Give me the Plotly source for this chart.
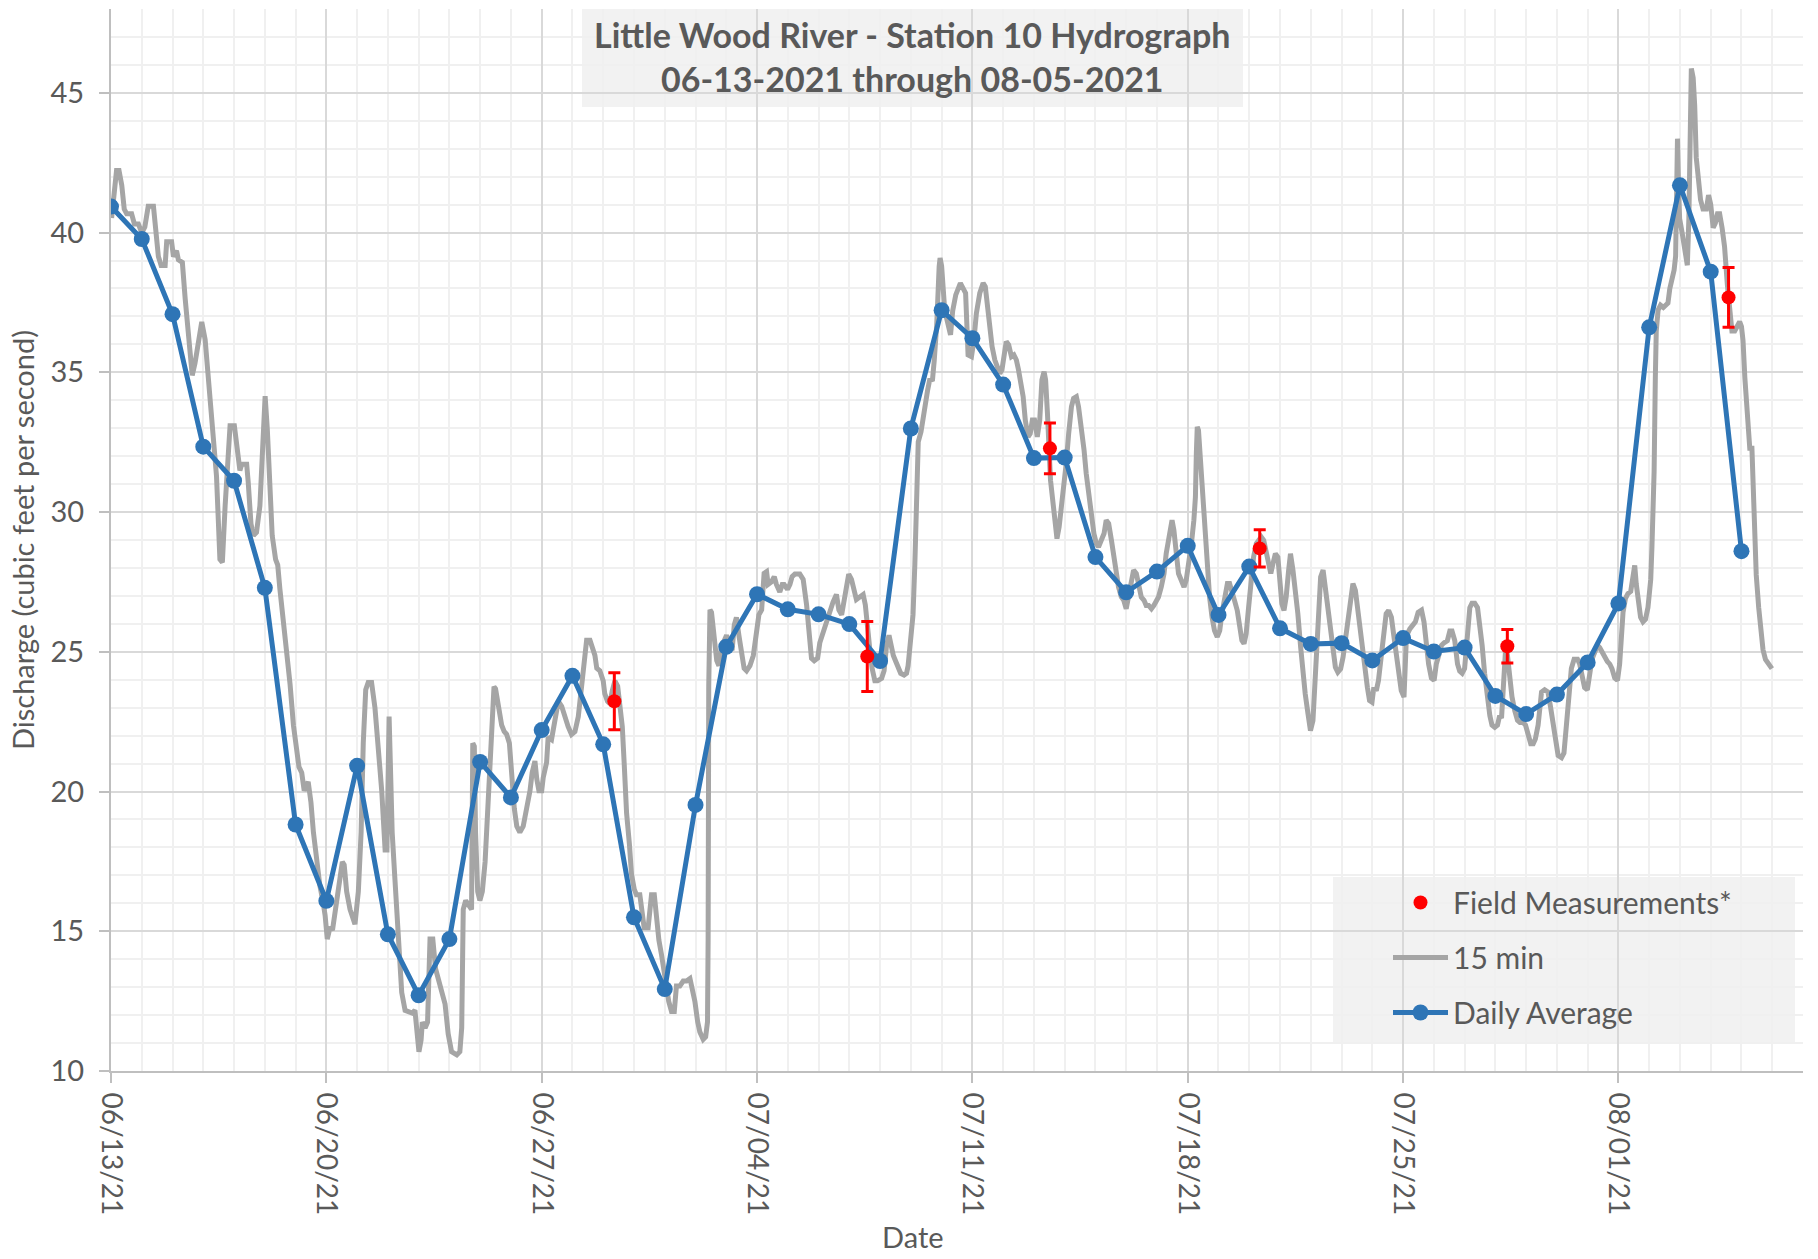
import pandas as pd
import plotly.graph_objects as go

START = pd.Timestamp("2021-06-13")

# ---- Daily average (one value per day, 06/13/21 .. 08/05/21) ----
daily_dates = pd.date_range("2021-06-13", "2021-08-05", freq="D")
daily_cfs = [40.93, 39.77, 37.08, 32.34, 31.12, 27.29, 18.82, 16.09, 20.92, 14.89,
             12.71, 14.72, 21.06, 19.79, 22.2, 24.14, 21.69, 15.5, 12.93, 19.52,
             25.18, 27.06, 26.52, 26.34, 25.99, 24.67, 32.99, 37.22, 36.22, 34.56,
             31.93, 31.95, 28.39, 27.13, 27.87, 28.79, 26.32, 28.05, 25.84, 25.28,
             25.31, 24.69, 25.49, 25.01, 25.15, 23.42, 22.77, 23.47, 24.62, 26.73,
             36.61, 41.69, 38.6, 28.6]

# ---- Field measurements with uncertainty ----
field_times = ["2021-06-29 08:40", "2021-07-07 14:00", "2021-07-13 12:30",
               "2021-07-20 08:10", "2021-07-28 09:20", "2021-08-04 13:55"]
field_cfs = [23.23, 24.83, 32.28, 28.7, 25.2, 37.68]
field_err = [1.02, 1.25, 0.91, 0.67, 0.6, 1.07]

# ---- 15-minute record (day offset from 06/13/21 00:00, cfs) ----
gray_days = [
    0.02, 0.18, 0.26, 0.35, 0.43, 0.51, 0.67, 0.76, 0.89, 1.0, 1.1, 1.21, 1.38, 1.48, 1.54, 1.63, 1.76, 1.81, 1.97,
    2.03, 2.13, 2.19, 2.32, 2.41, 2.57, 2.64, 2.73, 2.84, 2.95, 3.06, 3.11, 3.22, 3.33, 3.43, 3.54, 3.62, 3.71, 3.79,
    3.87, 4.01, 4.08, 4.19, 4.25, 4.41, 4.46, 4.55, 4.63, 4.73, 4.84, 4.95, 5.01, 5.08, 5.17, 5.24, 5.35, 5.42, 5.49,
    5.6, 5.71, 5.82, 5.93, 6.03, 6.11, 6.2, 6.28, 6.41, 6.5, 6.58, 6.68, 6.79, 6.9, 6.96, 7.03, 7.12, 7.2, 7.26, 7.33,
    7.44, 7.52, 7.58, 7.66, 7.77, 7.88, 7.93, 8.04, 8.13, 8.2, 8.28, 8.36, 8.47, 8.58, 8.69, 8.8, 8.91, 8.97, 9.04,
    9.08, 9.14, 9.23, 9.34, 9.45, 9.56, 9.79, 9.88, 9.94, 10.01, 10.08, 10.12, 10.21, 10.29, 10.37, 10.46, 10.55,
    10.64, 10.75, 10.86, 10.96, 11.07, 11.24, 11.34, 11.4, 11.45, 11.53, 11.72, 11.76, 11.81, 11.85, 11.92, 11.99,
    12.07, 12.16, 12.26, 12.37, 12.45, 12.5, 12.59, 12.7, 12.78, 12.86, 12.95, 13.02, 13.11, 13.19, 13.29, 13.4,
    13.51, 13.62, 13.69, 13.78, 13.84, 13.91, 14.0,
    14.05, 14.16, 14.21, 14.32, 14.43, 14.54, 14.65, 14.75, 14.86, 14.97, 15.08, 15.19, 15.3, 15.4, 15.46, 15.57,
    15.65, 15.73, 15.79, 15.89, 16.0, 16.05, 16.14, 16.22, 16.29, 16.38, 16.47, 16.54, 16.62, 16.68, 16.76, 16.85,
    16.92, 17.01, 17.08, 17.19, 17.25, 17.33, 17.46, 17.57, 17.66, 17.73, 17.81, 17.9, 17.98, 18.06, 18.13, 18.22,
    18.31, 18.38, 18.49, 18.6, 18.71, 18.82, 18.89, 18.98, 19.07, 19.14, 19.25, 19.33, 19.39, 19.41, 19.43, 19.47,
    19.52, 19.61, 19.69, 19.76, 19.85, 19.94, 20.01, 20.12, 20.19, 20.26, 20.33, 20.41, 20.49, 20.58, 20.66, 20.77,
    20.88, 20.98, 21.06, 21.15, 21.23, 21.31, 21.36, 21.47, 21.56, 21.63, 21.74, 21.82, 21.88, 21.99, 22.07, 22.14,
    22.23, 22.39, 22.5, 22.61, 22.68, 22.77, 22.86, 22.97, 23.04, 23.12, 23.18, 23.26, 23.33, 23.42, 23.47, 23.58,
    23.66, 23.75, 23.83, 23.91, 23.98, 24.07, 24.16, 24.23, 24.34, 24.45, 24.52, 24.59, 24.67, 24.74, 24.83, 24.92,
    25.05, 25.13, 25.21, 25.29, 25.35, 25.43, 25.5, 25.59, 25.67, 25.78, 25.86, 25.91, 25.97, 26.02, 26.07, 26.13,
    26.18, 26.24, 26.33, 26.4, 26.48, 26.54, 26.62, 26.7, 26.76, 26.84,
    26.92, 26.95, 27.0, 27.1, 27.2, 27.29, 27.36, 27.46, 27.61, 27.7,
    27.78, 27.86, 27.97, 28.05, 28.13, 28.24, 28.35, 28.42, 28.49, 28.56, 28.64, 28.73, 28.81, 28.89, 28.96, 29.03,
    29.1, 29.18, 29.27, 29.35, 29.43, 29.5, 29.57, 29.65, 29.72, 29.81, 29.88, 29.95, 30.02, 30.11, 30.19, 30.26,
    30.33, 30.38, 30.44, 30.49, 30.54, 30.6, 30.67, 30.75, 30.82, 30.89, 30.98, 31.05, 31.13, 31.22, 31.29, 31.38,
    31.45, 31.54, 31.63, 31.7, 31.78, 31.87, 31.95, 32.03, 32.1, 32.19, 32.28, 32.35, 32.43, 32.52, 32.6, 32.68,
    32.75, 32.84, 32.92, 33.0, 33.08, 33.17, 33.24, 33.33, 33.4, 33.49, 33.58, 33.65, 33.73, 33.82, 33.9, 33.98,
    34.05, 34.14, 34.23, 34.3, 34.38, 34.44, 34.49, 34.55, 34.63, 34.7, 34.79, 34.88, 34.95, 35.03, 35.12, 35.2,
    35.25, 35.28, 35.31, 35.35, 35.42, 35.5, 35.57, 35.64, 35.71, 35.79, 35.87, 35.96, 36.04, 36.11, 36.2, 36.29,
    36.36, 36.44, 36.52, 36.61, 36.69, 36.76, 36.83, 36.9, 36.98, 37.07, 37.14, 37.23, 37.3, 37.39, 37.47, 37.55,
    37.63, 37.7, 37.77, 37.85, 37.93, 37.99, 38.06, 38.13, 38.2, 38.28, 38.34, 38.42, 38.5, 38.58, 38.67, 38.75,
    38.82, 38.91, 38.99, 39.07, 39.12, 39.18, 39.23, 39.32, 39.4, 39.47, 39.56, 39.64, 39.72, 39.8, 39.88, 39.97,
    40.05, 40.12, 40.21, 40.3, 40.37, 40.45, 40.53, 40.62, 40.7, 40.77, 40.84, 40.91, 40.99, 41.05, 41.13, 41.2,
    41.29, 41.38, 41.45, 41.53, 41.62, 41.69, 41.78, 41.85, 41.94, 42.03,
    42.11, 42.22, 42.33, 42.4, 42.49, 42.6, 42.68, 42.76, 42.83, 42.92, 43.01, 43.08, 43.16, 43.25, 43.33, 43.44,
    43.52, 43.59, 43.68, 43.77, 43.84, 43.92, 44.0, 44.09, 44.17, 44.24, 44.33, 44.42, 44.49, 44.57, 44.65, 44.74,
    44.82, 44.89, 44.98, 45.07, 45.14, 45.2, 45.25, 45.3, 45.34, 45.39, 45.47, 45.54, 45.63, 45.72, 45.8, 45.9,
    45.98, 46.06, 46.15, 46.23, 46.3, 46.39, 46.44, 46.5, 46.6, 46.71, 46.79, 46.88, 46.95, 47.04, 47.15, 47.23,
    47.31, 47.38, 47.47, 47.56, 47.67, 47.74, 47.82, 47.9, 47.99, 48.07, 48.14, 48.23, 48.32, 48.39, 48.47, 48.55,
    48.64, 48.72, 48.79, 48.88, 48.97, 49.04, 49.1, 49.15, 49.23, 49.31, 49.4, 49.48, 49.53, 49.58, 49.64, 49.72,
    49.8, 49.88, 49.96, 50.05, 50.09, 50.16, 50.2, 50.23, 50.29, 50.37, 50.46, 50.56, 50.61, 50.67, 50.74, 50.81,
    50.86, 50.89, 50.92, 50.95, 50.99, 51.07, 51.13, 51.19, 51.24, 51.29, 51.32, 51.35, 51.37, 51.43, 51.48, 51.53,
    51.61, 51.67, 51.75, 51.86, 51.93, 52.0, 52.08, 52.15, 52.22, 52.29, 52.37, 52.45, 52.54, 52.62, 52.69, 52.78,
    52.87, 52.94, 53.0, 53.05, 53.11, 53.19, 53.27, 53.34, 53.41, 53.48, 53.56, 53.62, 53.7, 53.78, 53.84, 53.92,
    53.99]
gray_cfs = [
    40.52, 42.22, 42.22, 41.69, 40.84, 40.67, 40.67, 40.31, 40.31, 39.99, 40.2, 40.94, 40.94, 39.99, 39.14, 38.82,
    38.82, 39.67, 39.67, 39.14, 39.35, 39.03, 38.93, 37.65, 35.74, 34.89, 35.32, 36.17, 36.8, 36.17, 35.53, 34.47,
    32.98, 31.28, 28.31, 28.2, 30.22, 31.92, 33.09, 33.09, 32.34, 31.49, 31.71, 31.71, 31.07, 29.58, 29.16, 29.27,
    30.22, 32.98, 34.15, 32.98, 30.65, 29.16, 28.31, 28.1, 27.25, 26.19, 25.12, 23.85, 22.37, 21.52, 20.88, 20.67,
    20.03, 20.35, 19.61, 18.54, 17.48, 16.63, 16.0, 15.57, 14.72, 15.15, 15.04, 15.47, 16.0, 16.63, 17.48, 17.38,
    16.42, 15.78, 15.47, 15.25, 16.42, 18.54, 21.73, 23.64, 23.9, 23.9, 23.0, 21.73, 20.03, 17.91, 17.91, 22.68,
    20.45, 18.54, 16.85, 14.72, 12.81, 12.17, 12.07, 12.17, 11.33, 10.69, 11.11, 11.75, 11.54, 11.75, 14.72, 14.72,
    13.66, 13.24, 12.81, 12.39, 11.33, 10.69, 10.58, 10.69, 11.54, 15.78, 16.1, 15.78, 21.73, 21.62, 18.54, 16.42,
    16.1, 16.42, 17.48, 19.61, 21.73, 23.75, 23.68, 23.0, 22.37, 22.15, 22.05, 21.73, 20.67, 19.39, 18.76, 18.54,
    18.76, 19.39, 20.03, 20.67, 21.09, 20.45, 20.03, 20.03,
    20.5, 21.04, 21.95, 21.86, 22.68, 23.23, 23.05, 22.68, 22.32, 22.04, 22.14, 22.68, 23.77, 25.05, 25.41, 25.41,
    25.05, 24.87, 24.41, 24.32, 23.96, 23.5, 23.23, 23.14, 23.59, 23.96, 23.77, 23.23, 22.32, 21.04, 19.22, 18.13,
    17.04, 16.5, 16.31, 16.31, 15.77, 15.13, 15.13, 16.31, 16.31, 15.4, 14.68, 14.13, 13.58, 12.86, 12.49, 12.13,
    12.13, 13.04, 13.04, 13.22, 13.22, 13.31, 12.95, 12.49, 11.76, 11.4, 11.13, 11.22, 11.76, 14.68, 23.77, 26.5,
    26.41, 25.59, 24.68, 24.5, 25.23, 25.41, 25.59, 25.23, 25.05, 25.96, 26.23, 25.59, 24.87, 24.41, 24.32, 24.5,
    24.87, 25.78, 26.32, 26.5, 27.81, 27.87, 27.41, 27.5, 27.69, 27.41, 27.14, 27.41, 27.41, 27.23, 27.41, 27.69,
    27.78, 27.78, 27.59, 26.68, 25.59, 24.77, 24.68, 24.77, 25.32, 25.59, 25.78, 26.14, 26.32, 26.68, 26.78, 27.05,
    26.5, 26.32, 26.87, 27.41, 27.78, 27.59, 27.05, 26.87, 26.96, 27.05, 26.68, 25.78, 25.05, 24.41, 23.96, 23.96,
    24.05, 24.32, 25.23, 25.59, 25.23, 24.87, 24.68, 24.41, 24.23, 24.17, 24.23, 24.5, 25.23, 25.78, 26.32, 28.14,
    31.05, 32.51, 32.87, 33.42, 33.96, 34.33, 34.78, 34.69, 35.42, 36.69,
    38.79, 39.09, 38.8, 37.23, 36.76, 36.34, 37.2, 37.77, 38.19, 37.95,
    37.83, 35.62, 35.56, 36.16, 37.11, 37.83, 38.19, 38.07, 37.35, 36.52, 35.92, 35.44, 35.2, 34.96, 35.08, 35.68,
    36.1, 35.98, 35.56, 35.62, 35.44, 35.08, 34.73, 34.13, 33.29, 32.69, 32.81, 33.29, 33.29, 32.69, 33.29, 34.73,
    35.02, 34.73, 33.53, 31.98, 31.14, 30.54, 29.59, 29.05, 29.47, 30.07, 30.9, 31.74, 32.81, 33.77, 34.07, 34.13,
    33.77, 33.05, 32.22, 31.38, 30.66, 29.95, 29.23, 28.87, 28.75, 28.99, 29.23, 29.71, 29.59, 28.99, 28.39, 27.92,
    27.32, 26.96, 26.84, 26.54, 26.96, 27.56, 27.92, 27.8, 27.32, 26.96, 26.84, 26.66, 26.66, 26.54, 26.66, 26.78,
    26.96, 27.32, 27.8, 28.51, 28.99, 29.59, 29.71, 29.35, 28.51, 27.8, 27.56, 27.32, 27.56, 28.15, 28.87, 29.71,
    30.54, 32.1, 33.05, 32.93, 31.74, 29.95, 28.75, 27.8, 26.96, 26.24, 25.76, 25.53, 25.76, 26.36, 26.96, 27.44,
    27.44, 27.2, 26.84, 26.48, 25.88, 25.41, 25.29, 25.65, 26.6, 27.56, 28.39, 28.87, 28.99, 29.11, 28.99, 28.51,
    28.03, 27.8, 28.15, 28.51, 28.39, 27.68, 26.72, 26.48, 26.96, 27.92, 28.51, 27.92, 27.2, 26.36, 25.17, 24.21,
    23.49, 22.78, 22.18, 22.54, 23.61, 25.17, 26.6, 27.68, 27.92, 27.32, 26.6, 25.76, 25.05, 24.45, 24.27, 24.39,
    24.81, 25.41, 26.36, 27.08, 27.44, 27.2, 26.48, 25.65, 24.81, 24.09, 23.73, 23.26, 23.2, 23.73, 23.61, 23.97,
    24.93, 25.88, 26.36, 26.48, 26.24, 25.65, 24.93, 24.21, 23.61, 23.38,
    25.57, 25.82, 25.99, 26.07, 26.41, 26.49, 26.07, 25.23, 24.56, 24.06, 23.98, 24.56, 24.9, 25.23, 25.32, 25.4,
    25.74, 25.74, 25.4, 24.56, 24.31, 24.23, 24.4, 25.57, 26.58, 26.74, 26.74, 26.58, 26.07, 25.23, 24.23, 23.22,
    22.72, 22.38, 22.3, 22.38, 22.72, 22.63, 23.39, 24.4, 25.23, 24.9, 24.06, 23.39, 22.89, 22.55, 22.47, 22.47,
    22.38, 22.05, 21.71, 21.71, 21.88, 22.38, 23.05, 23.56, 23.64, 23.56, 23.05, 22.38, 21.71, 21.29, 21.21, 21.38,
    22.38, 23.39, 24.4, 24.73, 24.73, 24.56, 24.06, 23.72, 23.64, 24.23, 24.73, 24.98, 25.23, 25.15, 24.98, 24.82,
    24.65, 24.56, 24.4, 24.06, 23.98, 24.56, 25.4, 26.41, 26.91, 27.08, 27.16, 27.92, 28.09, 27.42, 26.74, 26.24,
    26.07, 26.16, 26.58, 27.58, 28.76, 31.44, 34.8, 36.48, 37.23, 37.4, 37.32, 37.4, 37.48, 37.99, 38.32, 38.66,
    39.16, 41.51, 43.36, 41.85, 40.5, 40.0, 39.5, 39.16, 38.83, 40.5, 44.03, 45.54, 45.87, 45.54, 44.53, 42.68,
    41.85, 41.17, 40.84, 40.84, 41.34, 41.01, 40.17, 40.34, 40.67, 40.67, 40.17, 39.5, 38.15, 37.15, 36.48, 36.48,
    36.64, 36.81, 36.64, 36.14, 34.8, 33.29, 32.28, 32.28, 29.77, 27.75, 26.58, 25.74, 25.07, 24.73, 24.65, 24.56,
    24.4]

gray_times = START + pd.to_timedelta(gray_days, unit="D")

FONT = "Lato"
TXT = "#595959"
W, H = 1818, 1259
ML, MR, MT, MB = 111, 15, 9, 188
PW, PH = W - ML - MR, H - MT - MB


def px(x):
    return (x - ML) / PW


def py(y):
    return (H - MB - y) / PH


fig = go.Figure()

fig.add_trace(go.Scatter(
    x=gray_times, y=gray_cfs, mode="lines", name="15 min",
    line=dict(color="#A5A5A5", width=5), legendrank=2, legendgroup="b",
))
fig.add_trace(go.Scatter(
    x=daily_dates, y=daily_cfs, mode="lines+markers", name="Daily Average",
    line=dict(color="#2E75B6", width=5),
    marker=dict(color="#2E75B6", size=16), legendrank=3, legendgroup="c",
))
fig.add_trace(go.Scatter(
    x=pd.to_datetime(field_times), y=field_cfs, mode="markers", name="Field Measurements*",
    marker=dict(color="#FF0000", size=14),
    error_y=dict(type="data", array=field_err, color="#FF0000", thickness=3, width=6),
    legendrank=1, legendgroup="a",
))

# title box and legend box backgrounds
fig.add_shape(type="rect", xref="paper", yref="paper",
              x0=px(582), x1=px(1243), y0=py(107), y1=py(9),
              fillcolor="#F2F2F2", line=dict(width=0), layer="below")
fig.add_shape(type="rect", xref="paper", yref="paper",
              x0=px(1333), x1=px(1795), y0=py(1044), y1=py(877),
              fillcolor="#F2F2F2", line=dict(width=0), layer="below")

fig.add_annotation(
    text="<b>Little Wood River - Station 10 Hydrograph</b><br><b>06-13-2021 through 08-05-2021</b>",
    xref="paper", yref="paper", x=px(912.5), y=py(56.5), xanchor="center", yanchor="middle",
    showarrow=False, font=dict(family=FONT, size=34, color=TXT), align="center",
)
fig.add_annotation(
    text="Discharge (cubic feet per second)", xref="paper", yref="paper",
    x=px(22), y=0.5, textangle=-90, xanchor="center", yanchor="middle",
    showarrow=False, font=dict(family=FONT, size=29, color=TXT),
)
fig.add_annotation(
    text="Date", xref="paper", yref="paper", x=px(913), y=py(1236),
    xanchor="center", yanchor="middle", showarrow=False,
    font=dict(family=FONT, size=29, color=TXT),
)

fig.update_layout(
    width=W, height=H,
    margin=dict(l=ML, r=MR, t=MT, b=MB, pad=0),
    paper_bgcolor="white", plot_bgcolor="rgba(0,0,0,0)",
    font=dict(family=FONT, size=29, color=TXT),
    showlegend=True,
    legend=dict(
        x=px(1388), y=py(876.5), xanchor="left", yanchor="top",
        bgcolor="rgba(0,0,0,0)", borderwidth=0,
        font=dict(family=FONT, size=30, color=TXT),
        itemwidth=55, tracegroupgap=13, traceorder="grouped",
    ),
)

fig.update_xaxes(
    type="date", range=["2021-06-13", "2021-08-07"],
    tick0="2021-06-13", dtick=7 * 86400000, tickformat="%m/%d/%y",
    tickangle=90, ticks="outside", ticklen=10, tickwidth=2, tickcolor="#BFBFBF",
    ticklabelstandoff=4,
    showline=True, linecolor="#BFBFBF", linewidth=2,
    showgrid=True, gridcolor="#D9D9D9", gridwidth=2,
    minor=dict(dtick=86400000, tick0="2021-06-13", showgrid=True, gridcolor="#F0F0F0", gridwidth=2),
    tickfont=dict(family=FONT, size=28, color=TXT), zeroline=False,
)
fig.update_yaxes(
    range=[10, 48], tick0=10, dtick=5,
    ticks="outside", ticklen=10, tickwidth=2, tickcolor="#BFBFBF",
    ticklabelstandoff=9,
    showline=True, linecolor="#BFBFBF", linewidth=2,
    showgrid=True, gridcolor="#D9D9D9", gridwidth=2,
    minor=dict(dtick=1, tick0=10, showgrid=True, gridcolor="#F0F0F0", gridwidth=2),
    tickfont=dict(family=FONT, size=29, color=TXT), zeroline=False,
)

fig.write_html("out.html", config={"displayModeBar": False},
               post_script="document.body.style.margin='0';")
